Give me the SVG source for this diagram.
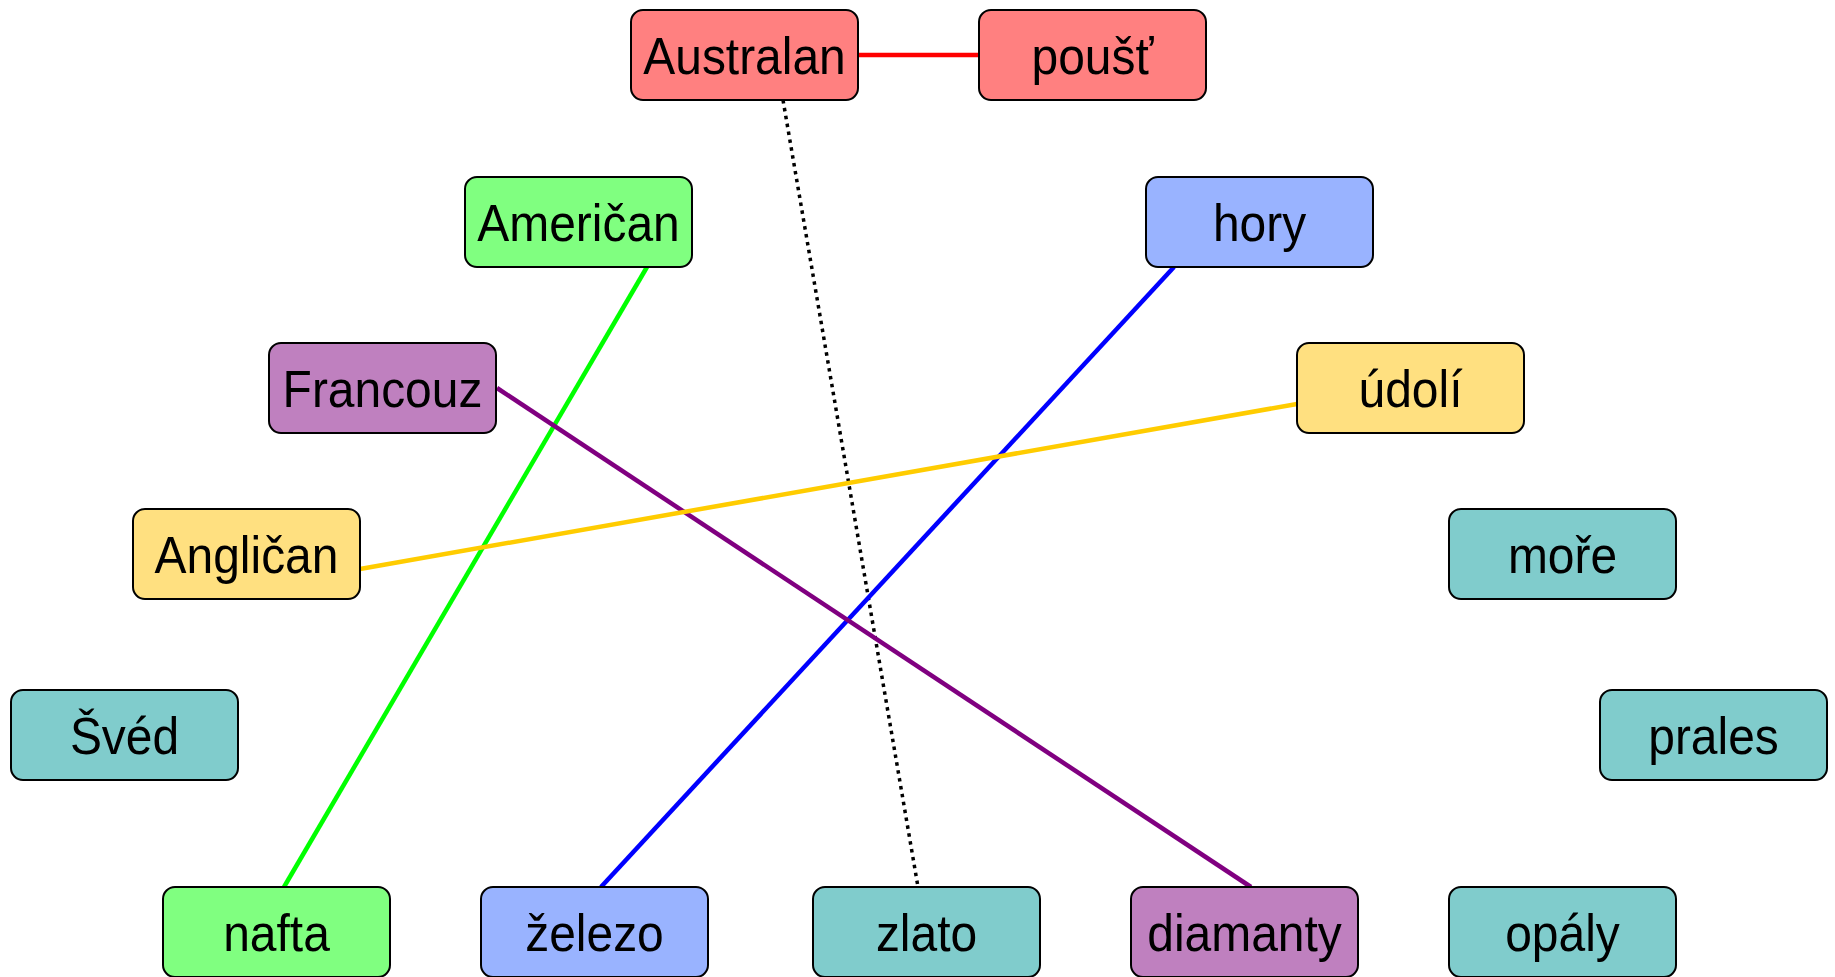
<svg xmlns="http://www.w3.org/2000/svg" width="1835" height="977" viewBox="0 0 1835 977">
<style>
.box{stroke:#000;stroke-width:2}
.lbl{font-family:"Liberation Sans",Arial,sans-serif;font-size:51px;fill:#000;text-anchor:middle}
.red{fill:#FF8080}.green{fill:#80FF80}.blue{fill:#99B3FF}.purple{fill:#BF80BF}.yellow{fill:#FFE080}.teal{fill:#80CCCC}
.ln{fill:none;stroke-width:4.5}
</style>
<rect width="1835" height="977" fill="#fff"/>
<g id="connectors">
<line class="ln" x1="858" y1="55" x2="979" y2="55" stroke="#FF0000"/>
<line x1="783" y1="100" x2="918" y2="887" stroke="#000" stroke-width="3.5" stroke-dasharray="3.5 4.5" fill="none"/>
<line class="ln" x1="647" y1="267" x2="284" y2="887" stroke="#00FF00"/>
<line class="ln" x1="1174" y1="267" x2="601" y2="887" stroke="#0000FF"/>
<line class="ln" x1="497" y1="388" x2="1251" y2="887" stroke="#800080"/>
<line class="ln" x1="360" y1="569" x2="1297" y2="404" stroke="#FFCC00"/>
</g>
<g id="n-australan"><rect class="box red" x="631" y="10" width="227" height="90" rx="12"/><text class="lbl" transform="translate(744.5,74) scale(0.94,1)">Australan</text></g>
<g id="n-poust"><rect class="box red" x="979" y="10" width="227" height="90" rx="12"/><text class="lbl" transform="translate(1092.5,74) scale(0.94,1)">poušť</text></g>
<g id="n-american"><rect class="box green" x="465" y="177" width="227" height="90" rx="12"/><text class="lbl" transform="translate(578.5,241) scale(0.94,1)">Američan</text></g>
<g id="n-hory"><rect class="box blue" x="1146" y="177" width="227" height="90" rx="12"/><text class="lbl" transform="translate(1259.5,241) scale(0.94,1)">hory</text></g>
<g id="n-francouz"><rect class="box purple" x="269" y="343" width="227" height="90" rx="12"/><text class="lbl" transform="translate(382.5,407) scale(0.94,1)">Francouz</text></g>
<g id="n-udoli"><rect class="box yellow" x="1297" y="343" width="227" height="90" rx="12"/><text class="lbl" transform="translate(1410.5,407) scale(0.94,1)">údolí</text></g>
<g id="n-anglican"><rect class="box yellow" x="133" y="509" width="227" height="90" rx="12"/><text class="lbl" transform="translate(246.5,573) scale(0.94,1)">Angličan</text></g>
<g id="n-more"><rect class="box teal" x="1449" y="509" width="227" height="90" rx="12"/><text class="lbl" transform="translate(1562.5,573) scale(0.94,1)">moře</text></g>
<g id="n-sved"><rect class="box teal" x="11" y="690" width="227" height="90" rx="12"/><text class="lbl" transform="translate(124.5,754) scale(0.94,1)">Švéd</text></g>
<g id="n-prales"><rect class="box teal" x="1600" y="690" width="227" height="90" rx="12"/><text class="lbl" transform="translate(1713.5,754) scale(0.94,1)">prales</text></g>
<g id="n-nafta"><rect class="box green" x="163" y="887" width="227" height="90" rx="12"/><text class="lbl" transform="translate(276.5,951) scale(0.94,1)">nafta</text></g>
<g id="n-zelezo"><rect class="box blue" x="481" y="887" width="227" height="90" rx="12"/><text class="lbl" transform="translate(594.5,951) scale(0.94,1)">železo</text></g>
<g id="n-zlato"><rect class="box teal" x="813" y="887" width="227" height="90" rx="12"/><text class="lbl" transform="translate(926.5,951) scale(0.94,1)">zlato</text></g>
<g id="n-diamanty"><rect class="box purple" x="1131" y="887" width="227" height="90" rx="12"/><text class="lbl" transform="translate(1244.5,951) scale(0.94,1)">diamanty</text></g>
<g id="n-opaly"><rect class="box teal" x="1449" y="887" width="227" height="90" rx="12"/><text class="lbl" transform="translate(1562.5,951) scale(0.94,1)">opály</text></g>
</svg>
